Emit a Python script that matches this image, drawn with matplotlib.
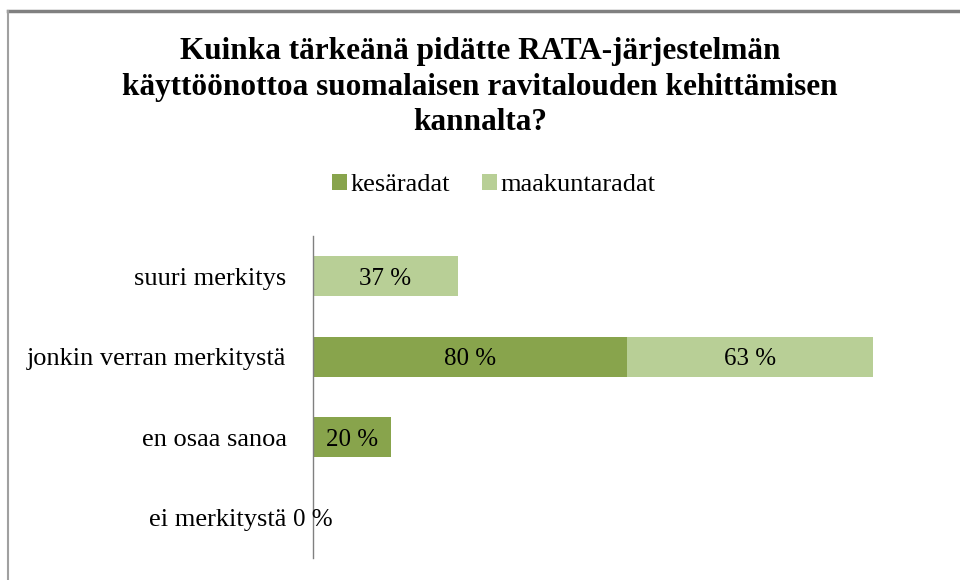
import numpy as np
import matplotlib
matplotlib.use("Agg")
import matplotlib.pyplot as plt
from matplotlib.lines import Line2D

categories = ["suuri merkitys", "jonkin verran merkitystä", "en osaa sanoa", "ei merkitystä"]
series = ["kesäradat", "maakuntaradat"]
kesaradat = [np.nan, 80, 20, 0]          # nan = no value in the source
maakuntaradat = [37, 63, np.nan, np.nan]
colors = ["#88A44C", "#B8CF96"]

plt.rcParams['font.family'] = ['Liberation Serif', 'DejaVu Serif']

fig = plt.figure(figsize=(9.6, 5.8), dpi=100)
ax = fig.add_axes([313/960, 22/580, 627/960, 322/580])

y = np.arange(len(categories))
k = np.nan_to_num(kesaradat)
m = np.nan_to_num(maakuntaradat)
ax.barh(y, k, height=0.5, color=colors[0], label=series[0])
ax.barh(y, m, left=k, height=0.5, color=colors[1], label=series[1])

# data labels centred in each segment
for i in range(len(categories)):
    if not np.isnan(kesaradat[i]):
        ax.text(k[i] / 2, y[i] + 0.03, f"{int(kesaradat[i])} %", ha="center", va="center", fontsize=18)
    if not np.isnan(maakuntaradat[i]):
        ax.text(k[i] + m[i] / 2, y[i] + 0.03, f"{int(maakuntaradat[i])} %", ha="center", va="center", fontsize=18)

ax.set_xlim(0, 160)
ax.set_ylim(3.5, -0.5)
ax.set_yticks(y)
ax.set_yticklabels(categories, fontsize=19)
ax.tick_params(axis="y", length=0, pad=19)
ax.set_xticks([])
for s in ["top", "right", "bottom"]:
    ax.spines[s].set_visible(False)
ax.spines["left"].set_color("#808080")
ax.spines["left"].set_linewidth(1)

fig.text(0.5, 1 - 87/580, "Kuinka tärkeänä pidätte RATA-järjestelmän\n"
         "käyttöönottoa suomalaisen ravitalouden kehittämisen\nkannalta?",
         ha="center", va="center", fontsize=22.5, fontweight="bold", linespacing=1.3)

fig.legend(loc="center", bbox_to_anchor=(494/960, 1 - 185/580), ncol=2, frameon=False,
           fontsize=19, handlelength=0.55, handleheight=0.55, handletextpad=0.15,
           columnspacing=1.2)

# outer chart frame (top and left edges visible)
fig.add_artist(Line2D([8/960, 1], [1 - 11/580, 1 - 11/580], color="#808080", lw=2.5))
fig.add_artist(Line2D([8/960, 8/960], [0, 1 - 11/580], color="#a0a0a0", lw=1.5))

fig.savefig("out.png", dpi=100, facecolor="white")
